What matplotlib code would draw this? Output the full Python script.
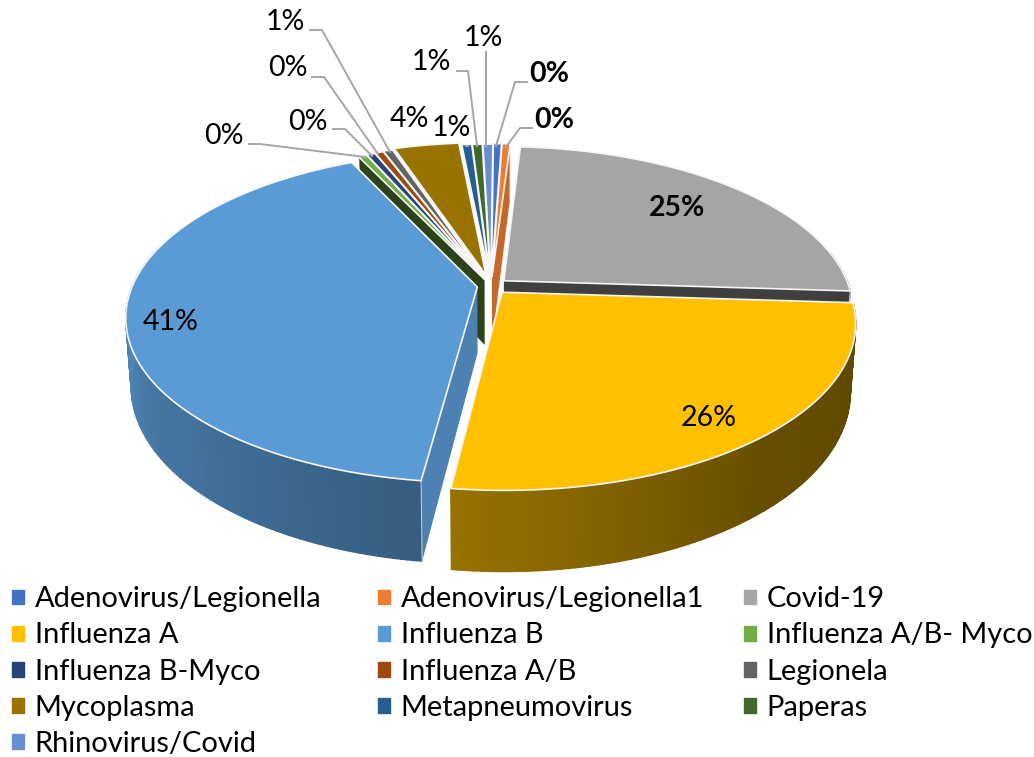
import numpy as np
import matplotlib
matplotlib.use('Agg')
import matplotlib.pyplot as plt
from matplotlib.patches import Patch
from matplotlib.colors import to_rgb

categories = ['Adenovirus/Legionella', 'Adenovirus/Legionella1', 'Covid-19', 'Influenza A',
              'Influenza B', 'Influenza A/B- Myco', 'Influenza B-Myco', 'Influenza A/B',
              'Legionela', 'Mycoplasma', 'Metapneumovirus', 'Paperas', 'Rhinovirus/Covid']
values = [0.45, 0.45, 25.0, 26.0, 40.9, 0.47, 0.47, 0.47, 0.52, 3.6, 0.55, 0.55, 0.55]
colors = ['#4472C4', '#ED7D31', '#A5A5A5', '#FFC000', '#5B9BD5', '#70AD47', '#264478',
          '#9E480E', '#636363', '#997300', '#255E91', '#43682B', '#698ED0']
explode = [0.06, 0.06, 0.05, 0.05, 0.04, 0.045, 0.05, 0.055, 0.06, 0.07, 0.055, 0.055, 0.055]
# which cut faces of each slice show: (start face, end face)
faces = [(0, 0), (0, 1), (0, 1), (0, 0), (1, 0), (1, 0), (0, 0), (0, 0), (0, 0), (0, 0), (0, 0), (0, 0), (0, 0)]

# label text position (px), bold flag, leader polyline (px)
label_pos = [(549, 74), (554, 120), (677, 208), (709, 418), (171, 322), (224, 136), (308, 122),
             (288, 68), (285, 22), (409, 119), (451, 128), (431, 62), (483, 38)]
label_bold = [True, True, True, False, False, False, False, False, False, False, False, False, False]
leaders = [[(527, 82), (515, 82), (496, 146)],
           [(532, 128), (520, 128), (506, 147)],
           None, None, None,
           [(249, 144), (260, 144), (365, 157)],
           [(333, 129), (345, 129), (372, 156)],
           [(312, 77), (324, 77), (378, 154)],
           [(310, 30), (322, 30), (390, 152)],
           None,
           [(466, 146), (468, 146)],
           [(457, 71), (468, 71), (477, 146)],
           [(486, 52), (486, 146)]]

FONT = ['Lato', 'DejaVu Sans']
CX, CY, R, S, K, H, BASE = 491, 286, 345, 160, 0.18, 66, 0.985
START = 0.4


def project(u, v, low=False):
    w = 1 + K * v
    x = R * u / w
    y = CY - S * v / w
    if low:
        return CX + x * BASE, y + H / w
    return CX + x, y


def wall_factor(theta):
    return np.interp(theta, [0, 100, 140, 188, 270, 360], [0.37, 0.37, 0.40, 0.60, 0.88, 0.88])


def shade(col, f):
    return tuple(min(1, c * f) for c in to_rgb(col))


fig = plt.figure(figsize=(10.34, 7.57), dpi=100)
ax = fig.add_axes([0, 0, 1, 1])
ax.set_xlim(0, 1034)
ax.set_ylim(757, 0)
ax.axis('off')

total = sum(values)
ends = START + np.cumsum(values) / total * 360
starts = ends - np.array(values) / total * 360
mids = (starts + ends) / 2
order = sorted(range(len(values)), key=lambda i: -np.cos(np.radians(mids[i])))

for z, i in enumerate(order):
    a0, a1, col, e = starts[i], ends[i], colors[i], explode[i]
    ou, ov = e * np.sin(np.radians(mids[i])), e * np.cos(np.radians(mids[i]))
    th = np.radians(np.linspace(a0, a1, max(3, int(a1 - a0) + 1)))
    us, vs = ou + np.sin(th), ov + np.cos(th)
    top = [project(u, v) for u, v in zip(us, vs)]
    low = [project(u, v, True) for u, v in zip(us, vs)]
    at, al = project(ou, ov), project(ou, ov, True)
    zo = 2 + z * 0.1
    # cut faces
    for (show, pt, pl, a, sgn) in ((faces[i][0], top[0], low[0], a0, -1), (faces[i][1], top[-1], low[-1], a1, 1)):
        if not show:
            continue
        south = -np.cos(np.radians(a + sgn * 90))
        f = 0.38 if south > 0.3 else 0.83
        ax.fill([at[0], pt[0], pl[0], al[0]], [at[1], pt[1], pl[1], al[1]],
                color=shade(col, f), lw=0, zorder=zo)
        ax.plot([pt[0], pl[0]], [pt[1], pl[1]], color='white', lw=0.8, alpha=0.7, zorder=zo + 0.015)
    # outer wall as shaded strips
    for k in range(len(th) - 1):
        mid = np.degrees((th[k] + th[k + 1]) / 2) % 360
        if 80 < mid < 285:
            c = shade(col, wall_factor(mid))
            ax.fill([top[k][0], top[k + 1][0], low[k + 1][0], low[k][0]],
                    [top[k][1], top[k + 1][1], low[k + 1][1], low[k][1]],
                    color=c, lw=1.0, ec=c, zorder=zo + 0.01)
    xs = [at[0]] + [p[0] for p in top]
    ys = [at[1]] + [p[1] for p in top]
    ax.fill(xs, ys, fc=col, ec='#f6f6f6', lw=1.2, joinstyle='round', zorder=zo + 0.02)

for i, (pos, bold) in enumerate(zip(label_pos, label_bold)):
    ax.text(pos[0], pos[1], f'{values[i] / total * 100:.0f}%', ha='center', va='center',
            fontsize=20.5, family=FONT, fontweight='bold' if bold else 'normal', color='black', zorder=20)
    if leaders[i]:
        lx, ly = zip(*leaders[i])
        ax.plot(lx, ly, color='#A6A6A6', lw=1.4, zorder=6)

# legend, filled row by row as three columns
for col_i, x_anchor in enumerate((12, 378, 744)):
    idx = list(range(col_i, len(values), 3))
    handles = [Patch(color=colors[i], label=categories[i]) for i in idx]
    leg = ax.legend(handles=handles, loc='upper left', bbox_to_anchor=(x_anchor, 586.3),
                    bbox_transform=ax.transData, frameon=False, ncol=1,
                    prop={'family': FONT, 'size': 20.9}, handlelength=0.41, handleheight=0.41,
                    handletextpad=0.37, labelspacing=0.35, borderpad=0, borderaxespad=0)
    ax.add_artist(leg)
    ax.legend_ = None

fig.savefig('out.png', dpi=100)
